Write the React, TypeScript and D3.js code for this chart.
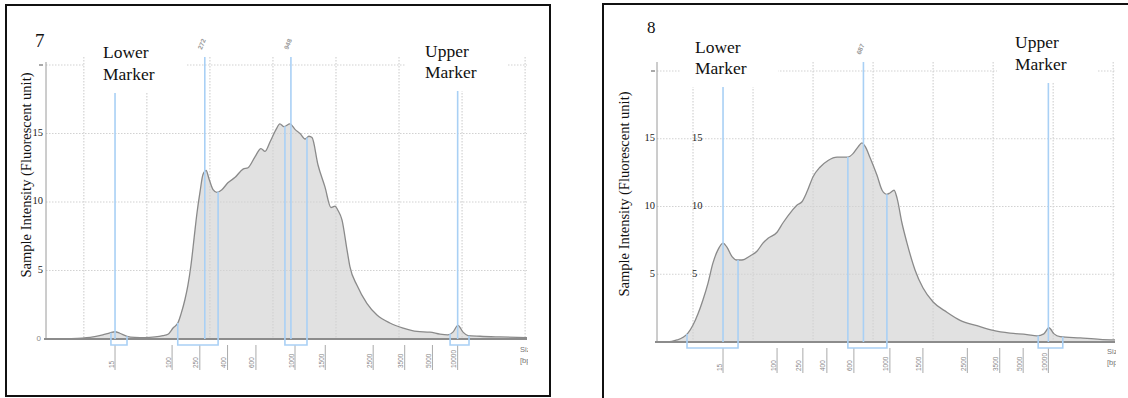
import React from "react";
import * as d3 from "d3";

// Electropherogram traces: migration time (s) and fluorescence (FU)
const sample7Time = [24.0, 27.8, 31.0, 33.0, 34.15, 34.95, 35.7, 36.85, 38.1, 39.7, 41.3, 42.55, 43.35, 44.15, 44.95, 45.4, 46.05, 46.5, 47.0, 47.5, 47.95, 48.45, 48.9, 49.4, 49.85, 50.5, 51.1, 51.9, 52.85, 54.0, 55.25, 56.05, 57.15, 58.1, 58.75, 59.55, 60.5, 61.1, 61.75, 62.7, 63.5, 64.3, 65.1, 65.7, 66.2, 67.15, 68.25, 69.2, 69.85, 70.3, 70.95, 71.75, 72.2, 73.35, 74.9, 76.5, 78.55, 80.65, 82.85, 84.9, 86.5, 87.75, 88.55, 89.35, 90.15, 90.95, 92.85, 96.0, 100.3];
const sample7Fu = [0.0, 0.03, 0.12, 0.3, 0.45, 0.53, 0.42, 0.2, 0.12, 0.1, 0.15, 0.25, 0.35, 0.8, 1.2, 1.8, 2.9, 3.9, 5.4, 7.4, 9.2, 10.8, 12.0, 12.3, 11.7, 10.9, 10.7, 10.9, 11.4, 11.8, 12.4, 12.5, 13.3, 13.9, 13.7, 14.4, 15.3, 15.7, 15.5, 15.7, 15.3, 15.0, 14.6, 14.8, 14.7, 12.7, 11.1, 9.6, 9.7, 9.4, 8.7, 6.5, 5.3, 3.9, 2.6, 1.75, 1.17, 0.8, 0.55, 0.5, 0.35, 0.3, 0.5, 1.0, 0.5, 0.25, 0.2, 0.15, 0.1];

const sample8Time = [24.0, 25.65, 27.35, 28.35, 29.15, 30.0, 30.85, 31.65, 32.5, 33.3, 34.15, 35.0, 35.65, 36.5, 37.3, 38.15, 39.5, 40.65, 41.65, 42.5, 44.0, 45.0, 46.5, 47.3, 48.15, 49.0, 50.0, 51.15, 52.5, 54.0, 55.8, 56.65, 57.5, 58.15, 58.65, 59.5, 60.65, 61.5, 62.3, 62.8, 63.5, 64.0, 64.8, 65.65, 67.0, 68.3, 70.0, 72.3, 74.5, 77.3, 80.0, 82.8, 85.65, 87.3, 88.45, 89.3, 90.15, 91.15, 94.5, 97.8, 100.3];
const sample8Fu = [0.0, 0.0, 0.15, 0.35, 0.65, 1.25, 2.1, 3.1, 4.35, 5.8, 6.8, 7.3, 7.0, 6.3, 6.05, 6.05, 6.35, 6.7, 7.3, 7.65, 8.1, 8.8, 9.7, 10.1, 10.35, 11.1, 12.2, 12.9, 13.4, 13.65, 13.65, 13.9, 14.4, 14.7, 14.45, 13.6, 12.3, 11.2, 10.9, 11.0, 11.2, 10.6, 8.8, 7.3, 5.3, 4.0, 2.95, 2.2, 1.6, 1.2, 0.85, 0.65, 0.55, 0.45, 0.6, 1.05, 0.6, 0.4, 0.3, 0.2, 0.15];

// Ladder fragment sizes (bp) and where they migrated in each run (s)
const ladderSizes = [15, 100, 250, 400, 600, 1000, 1500, 2500, 3500, 5000, 10000];
const ladderTime7 = [34.95, 44.0, 48.4, 52.8, 57.3, 63.5, 68.3, 75.9, 80.9, 85.3, 89.3];
const ladderTime8 = [35.0, 44.0, 48.3, 52.3, 56.8, 62.8, 68.3, 75.7, 81.1, 85.0, 89.2];

const intensityTicks = [5, 10, 15, 20];
const timeGrid = [30, 40, 50, 60, 70, 80, 90, 100];

// Called peaks (bp)
const peaks7 = [272, 948];
const peaks8 = [687];

// Integration windows [start, end] in seconds
const regions7 = [[34.3, 36.85], [44.9, 51.3], [61.9, 65.4], [88.1, 91.1]];
const regions8 = [[29.0, 37.5], [55.8, 62.3], [87.5, 91.6]];

const SERIF = "'Times New Roman', 'Liberation Serif', 'DejaVu Serif', serif";
const SANS = "'Liberation Sans', 'DejaVu Sans', sans-serif";
const BLUE = "#a9d0f5";
const GRID = "#d2d2d2";

type Box = { x: number; b1: number; b2: number; left: number; right: number; bottom: number };

type PanelCfg = {
  key: string;
  title: string;
  titleX: number;
  titleY: number;
  titleSize: number;
  time: number[];
  fu: number[];
  ladderTime: number[];
  peaks: number[];
  regions: number[][];
  frame: [number, number, number, number];
  x0: number;
  x1: number;
  y0: number;
  y20: number;
  gridTop: number;
  axisTop: number;
  yTitleX: number;
  yTitleY: number;
  lower: Box;
  upper: Box;
  tickLabelX: number;
  innerTickX: number | null;
  showZero: boolean;
  sizeX: number;
  sizeY: number;
  clipRight: number;
};

function Panel({ c }: { c: PanelCfg }) {
  const x = d3.scaleLinear().domain([24, 100.3]).range([c.x0, c.x1]);
  const y = d3.scaleLinear().domain([0, 20]).range([c.y0, c.y20]);
  const bpToTime = d3
    .scaleLinear()
    .domain(ladderSizes.map((s) => Math.log(s)))
    .range(c.ladderTime);
  const fuAt = d3.scaleLinear().domain(c.time).range(c.fu).clamp(true);

  const pts = c.time.map((t, i) => [t, c.fu[i]] as [number, number]);
  const area = d3
    .area<[number, number]>()
    .x((d) => x(d[0]))
    .y0(y(0))
    .y1((d) => y(d[1]))
    .curve(d3.curveMonotoneX);
  const line = d3
    .line<[number, number]>()
    .x((d) => x(d[0]))
    .y((d) => y(d[1]))
    .curve(d3.curveMonotoneX);

  const [fx, fy, fw, fh] = c.frame;
  const tickTop = c.y0 + 6;
  const tickBottom = c.y0 + 31;
  const lowerX = x(bpToTime(Math.log(ladderSizes[0])));
  const upperX = x(bpToTime(Math.log(ladderSizes[ladderSizes.length - 1])));
  const clipId = `clip-${c.key}`;

  return (
    <g>
      <defs>
        <clipPath id={clipId}>
          <rect x={fx} y={fy} width={c.clipRight - fx} height={fh} />
        </clipPath>
      </defs>

      {/* trace fill */}
      <path d={area(pts) ?? ""} fill="#e1e1e1" />

      {/* dotted grid */}
      {intensityTicks.map((v) => (
        <line key={`h${v}`} x1={c.x0} x2={c.x1} y1={y(v)} y2={y(v)} stroke={GRID} strokeWidth={1.2} strokeDasharray="1.5,1.5" />
      ))}
      {timeGrid.map((t) => (
        <line key={`v${t}`} x1={x(t)} x2={x(t)} y1={c.gridTop} y2={c.y0} stroke={GRID} strokeWidth={1.2} strokeDasharray="1.5,1.5" />
      ))}

      {/* marker captions sit on white boxes */}
      {[c.lower, c.upper].map((b, i) => (
        <g key={`cap${i}`}>
          <rect x={b.left} y={fy + 2} width={b.right - b.left} height={b.bottom - fy - 2} fill="#fff" />
          <text x={b.x} y={b.b1} fontFamily={SERIF} fontSize={17.5} fill="#111">
            {i === 0 ? "Lower" : "Upper"}
          </text>
          <text x={b.x} y={b.b2} fontFamily={SERIF} fontSize={17.5} fill="#111">
            Marker
          </text>
        </g>
      ))}

      {/* trace outline */}
      <path d={line(pts) ?? ""} fill="none" stroke="#8a8a8a" strokeWidth={1.3} />

      {/* axes */}
      <line x1={c.x0} x2={c.x0} y1={c.axisTop} y2={c.y0} stroke="#9a9a9a" strokeWidth={1} />
      <line x1={c.x0 - 2} x2={c.x1} y1={c.y0} y2={c.y0} stroke="#8c8c8c" strokeWidth={2} />

      {/* intensity labels */}
      {intensityTicks.filter((v) => v < 20).map((v) => (
        <text key={`yl${v}`} x={c.tickLabelX} y={y(v)} textAnchor="end" dominantBaseline="middle" fontFamily={SERIF} fontSize={10.5} fill="#222">
          {v}
        </text>
      ))}
      <line x1={c.tickLabelX - 4} x2={c.tickLabelX} y1={y(20)} y2={y(20)} stroke="#555" strokeWidth={1} />
      {c.innerTickX !== null &&
        intensityTicks.filter((v) => v < 20).map((v) => (
          <text key={`yi${v}`} x={c.innerTickX as number} y={y(v)} textAnchor="start" dominantBaseline="middle" fontFamily={SERIF} fontSize={10.5} fill="#222">
            {v}
          </text>
        ))}
      {c.showZero && (
        <text x={c.tickLabelX - 2} y={c.y0} textAnchor="end" dominantBaseline="middle" fontFamily={SANS} fontSize={8} fill="#888">
          0
        </text>
      )}

      {/* y title */}
      <text
        transform={`translate(${c.yTitleX},${c.yTitleY}) rotate(-90)`}
        textAnchor="middle"
        fontFamily={SERIF}
        fontSize={14.5}
        fill="#111"
      >
        Sample Intensity (Fluorescent unit)
      </text>

      {/* ladder size labels */}
      {ladderSizes.map((s, i) => {
        const px = x(c.ladderTime[i]);
        return (
          <g key={`lad${s}`}>
            <line x1={px} x2={px} y1={tickTop} y2={tickBottom} stroke="#aaa" strokeWidth={1} />
            <text
              transform={`translate(${px - 1.5},${tickBottom - 2}) rotate(-90)`}
              fontFamily={SANS}
              fontSize={6.5}
              fill="#888"
            >
              {s}
            </text>
          </g>
        );
      })}
      <g clipPath={`url(#${clipId})`}>
        <text x={c.sizeX} y={c.sizeY} fontFamily={SANS} fontSize={7.5} fill="#777">
          Size
        </text>
        <text x={c.sizeX} y={c.sizeY + 11} fontFamily={SANS} fontSize={7.5} fill="#777">
          [bp]
        </text>
      </g>

      {/* marker lines */}
      <line x1={lowerX} x2={lowerX} y1={c.lower.bottom} y2={c.y0} stroke={BLUE} strokeWidth={1.6} />
      <line x1={upperX} x2={upperX} y1={c.upper.bottom} y2={c.y0} stroke={BLUE} strokeWidth={1.6} />

      {/* peak lines with size labels */}
      {c.peaks.map((bp) => {
        const px = x(bpToTime(Math.log(bp)));
        return (
          <g key={`pk${bp}`}>
            <line x1={px} x2={px} y1={c.gridTop} y2={c.y0} stroke={BLUE} strokeWidth={1.6} />
            <text
              transform={`translate(${px - 3},${c.gridTop - 7}) rotate(-67)`}
              fontFamily={SANS}
              fontSize={6.5}
              fontWeight="bold"
              fill="#999"
            >
              {bp}
            </text>
          </g>
        );
      })}

      {/* integration brackets */}
      {c.regions.map(([a, b], i) => {
        const xa = x(a);
        const xb = x(b);
        const bot = c.y0 + 6;
        return (
          <path
            key={`rg${i}`}
            d={`M${xa},${y(fuAt(a))}V${bot}H${xb}V${y(fuAt(b))}`}
            fill="none"
            stroke={BLUE}
            strokeWidth={1.6}
          />
        );
      })}

      {/* sample number */}
      <text x={c.titleX} y={c.titleY} fontFamily={SERIF} fontSize={c.titleSize} fill="#111">
        {c.title}
      </text>

      {/* frame */}
      <rect x={fx} y={fy} width={fw} height={fh} fill="none" stroke="#111" strokeWidth={2} />
    </g>
  );
}

export default function App() {
  const panels: PanelCfg[] = [
    {
      key: "s7",
      title: "7",
      titleX: 35,
      titleY: 47,
      titleSize: 19,
      time: sample7Time,
      fu: sample7Fu,
      ladderTime: ladderTime7,
      peaks: peaks7,
      regions: regions7,
      frame: [6, 5, 544, 391],
      x0: 46,
      x1: 527,
      y0: 339,
      y20: 65,
      gridTop: 57,
      axisTop: 62,
      yTitleX: 31,
      yTitleY: 175,
      lower: { x: 103, b1: 58, b2: 80, left: 85, right: 186, bottom: 93 },
      upper: { x: 425, b1: 57, b2: 78, left: 405, right: 508, bottom: 91 },
      tickLabelX: 43,
      innerTickX: null,
      showZero: true,
      sizeX: 520,
      sizeY: 352,
      clipRight: 528,
    },
    {
      key: "s8",
      title: "8",
      titleX: 647,
      titleY: 33,
      titleSize: 17,
      time: sample8Time,
      fu: sample8Fu,
      ladderTime: ladderTime8,
      peaks: peaks8,
      regions: regions8,
      frame: [603, 4, 540, 400],
      x0: 657,
      x1: 1115,
      y0: 342,
      y20: 71,
      gridTop: 62,
      axisTop: 62,
      yTitleX: 629,
      yTitleY: 194,
      lower: { x: 695, b1: 53, b2: 74, left: 680, right: 778, bottom: 87 },
      upper: { x: 1015, b1: 48, b2: 70, left: 997, right: 1098, bottom: 83 },
      tickLabelX: 655,
      innerTickX: 692,
      showZero: false,
      sizeX: 1107,
      sizeY: 354,
      clipRight: 1116,
    },
  ];

  return (
    <svg
      width={1128}
      height={398}
      viewBox="0 0 1128 398"
      style={{ position: "absolute", left: 0, top: 0, background: "#fff" }}
    >
      <rect x={0} y={0} width={1128} height={398} fill="#fff" />
      {panels.map((p) => (
        <Panel key={p.key} c={p} />
      ))}
    </svg>
  );
}
